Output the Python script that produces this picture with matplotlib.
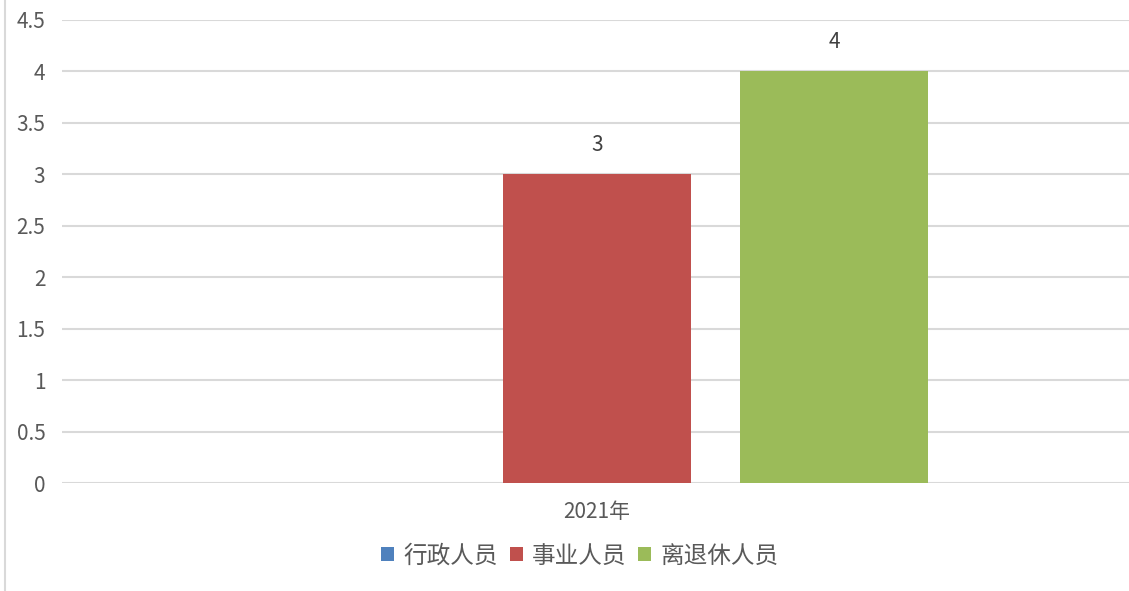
import matplotlib
matplotlib.use("Agg")
import matplotlib.pyplot as plt
from matplotlib.patches import Patch
from matplotlib.lines import Line2D

plt.rcParams['font.family'] = ['Noto Sans CJK SC', 'DejaVu Sans']

categories = ["2021年"]
series_names = ["行政人员", "事业人员", "离退休人员"]
series_values = [[0], [3], [4]]
series_labels = [None, "3", "4"]
colors = ["#4F81BD", "#C0504D", "#9BBB59"]
yticks = [0, 0.5, 1, 1.5, 2, 2.5, 3, 3.5, 4, 4.5]
ytick_labels = ["0", "0.5", "1", "1.5", "2", "2.5", "3", "3.5", "4", "4.5"]

fig = plt.figure(figsize=(11.29, 5.91), dpi=100)
ax = fig.add_axes([62/1129, 1 - 483/591, 1 - 62/1129, (483 - 20)/591])

width = 0.79
offsets = [-1, 0, 1]
for name, vals, lab, col, off in zip(series_names, series_values, series_labels, colors, offsets):
    xs = [i + off for i in range(len(categories))]
    bars = ax.bar(xs, vals, width=width, color=col, zorder=3)
    if lab is not None:
        ax.bar_label(bars, labels=[lab] * len(vals), padding=13, fontsize=15, color="#404040")

ax.set_xlim(-2.257, 2.245)
ax.set_ylim(0, 4.5)
ax.set_yticks(yticks)
ax.set_yticklabels(ytick_labels, fontsize=15, color="#595959")
ax.set_xticks(range(len(categories)))
ax.set_xticklabels(categories, fontsize=15, color="#595959")
ax.tick_params(axis='both', length=0)
ax.tick_params(axis='y', pad=12)
ax.tick_params(axis='x', pad=13)
ax.grid(axis='y', color="#D9D9D9", linewidth=1.5, zorder=0)
ax.set_axisbelow(True)
for s in ax.spines.values():
    s.set_visible(False)

handles = [Patch(facecolor=c, edgecolor='none') for c in colors]
leg = fig.legend(handles, series_names, loc='center', bbox_to_anchor=(580/1129, 1 - 556/591),
                 ncol=3, frameon=False, fontsize=17, handlelength=0.55, handleheight=0.55,
                 handletextpad=0.4, columnspacing=0.5, labelcolor="#595959")

fig.add_artist(Line2D([5/1129, 5/1129], [0, 1], color="#D9D9D9", linewidth=1.5, transform=fig.transFigure))

fig.savefig("out.png", dpi=100, facecolor="white")
